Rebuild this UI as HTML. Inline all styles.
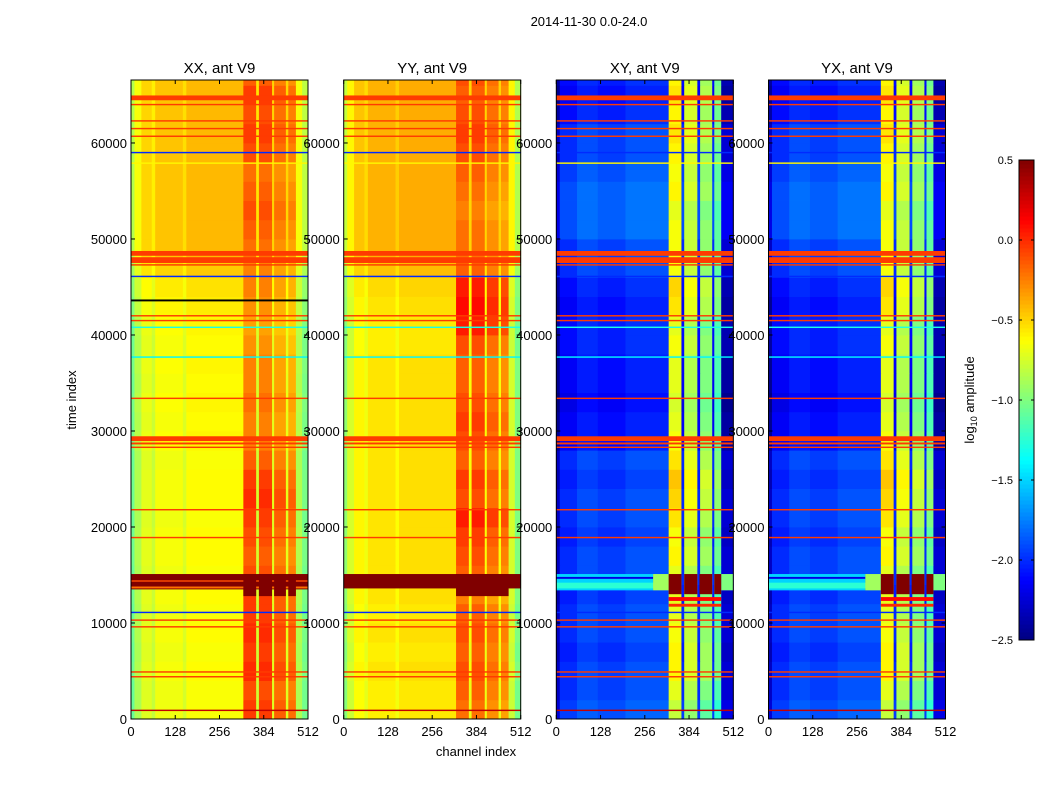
<!DOCTYPE html>
<html><head><meta charset="utf-8"><style>
body{margin:0;background:#fff;width:1050px;height:800px;overflow:hidden}
svg{font-family:"Liberation Sans",sans-serif}
</style></head><body>
<svg id="fig" width="1050" height="800" xmlns="http://www.w3.org/2000/svg">
<text x="589" y="26" font-size="13" text-anchor="middle">2014-11-30 0.0-24.0</text>
<text x="476" y="756" font-size="13" text-anchor="middle">channel index</text>
<text transform="translate(76,400) rotate(-90)" font-size="13" text-anchor="middle">time index</text>
<text transform="translate(974,400) rotate(-90)" font-size="13" text-anchor="middle">log<tspan font-size="9" dy="3">10</tspan><tspan dy="-3"> amplitude</tspan></text>
<g id="panels"></g>
<g id="cbar"></g>
</svg>
<script>
const TMAX = 66560;
const xTicks = [0,128,256,384,512];
const yTicks = [0,10000,20000,30000,40000,50000,60000];
const cbTicks = [-2.5,-2.0,-1.5,-1.0,-0.5,0.0,0.5];
const titles = ["XX, ant V9","YY, ant V9","XY, ant V9","YX, ant V9"];
// column segments: [c0, c1, base value, isRfi]
const colXX = [[0,10,-0.85,0],[10,30,-0.65,0],[30,60,-0.5,0],[60,70,-0.58,0],[70,150,-0.45,0],[150,160,-0.53,0],[160,325,-0.42,0],[325,362,-0.15,1],[362,370,-0.55,0],[370,408,-0.15,1],[408,414,-0.5,0],[414,448,-0.25,1],[448,455,-0.5,0],[455,477,-0.3,1],[477,495,-0.65,0],[495,512,-0.82,0]];
const colYY = [[0,10,-0.8,0],[10,30,-0.6,0],[30,60,-0.45,0],[60,70,-0.52,0],[70,150,-0.4,0],[150,160,-0.48,0],[160,325,-0.38,0],[325,362,-0.15,1],[362,370,-0.5,0],[370,408,-0.15,1],[408,414,-0.5,0],[414,448,-0.25,1],[448,455,-0.5,0],[455,477,-0.3,1],[477,495,-0.6,0],[495,512,-0.85,0]];
const colXY = [[0,10,-2.3,0],[10,60,-2.0,0],[60,120,-1.9,0],[120,200,-1.95,0],[200,325,-1.88,0],[325,362,-0.7,1],[362,370,-2.0,0],[370,408,-0.85,1],[408,416,-2.0,0],[416,451,-1.0,1],[451,457,-2.0,0],[457,477,-1.15,1],[477,512,-2.25,0]];
// row offsets per 2000 time units (body, rfi)
const bodyXX = [-0.22,-0.22,-0.2,-0.22,-0.2,-0.22,-0.2,-0.22,-0.2,-0.2,-0.22,-0.2,-0.2,-0.22,-0.18,-0.2,-0.18,-0.2,-0.18,-0.2,-0.18,-0.15,-0.12,-0.05,0,0,0,0,0,0,0,0,0,0];
const rfiXX = [0.1,0.05,0.15,0.1,0.15,0.1,0.1,0.05,0,0.05,0.1,0.15,0.1,0,-0.1,-0.1,-0.05,-0.1,-0.1,-0.15,-0.2,-0.15,-0.1,-0.1,-0.05,0,0.05,0,-0.05,0.05,0.1,0.05,0.1,0];
const bodyYY = [-0.18,-0.18,-0.15,-0.18,-0.15,-0.18,-0.15,-0.15,-0.15,-0.15,-0.15,-0.15,-0.15,-0.15,-0.15,-0.15,-0.15,-0.15,-0.15,-0.18,-0.18,-0.15,-0.12,-0.05,0,0,0,0,0,0,0,0,0,0];
const rfiYY = [-0.05,0,0.05,0,0.05,0,-0.1,0,0.05,0.1,0.2,0.05,0.1,0,0.05,0.1,0.05,0,0,0.05,0.2,0.25,0.2,0,-0.05,-0.05,-0.1,-0.05,0,0.05,0.1,0.05,0,0.05];
const bodyXY = [0.05,0,0,-0.05,0,0,-0.05,0,0,-0.05,0,0,-0.05,0,-0.15,-0.15,-0.2,-0.15,-0.15,-0.1,-0.1,-0.15,-0.1,0,0,0.1,0.1,0.1,0.05,0,0,-0.1,-0.15,-0.1];
const rfiXY = [-0.1,0,0.1,0.1,0.05,0,0,0,0.1,0.05,0.15,0.2,0.25,0.15,0.05,0,-0.05,0,0,0.05,0,0.15,0.2,0.05,0.05,0.05,0,0.1,0.05,0.1,0.15,0.1,0.15,0.1];
// horizontal flagged lines: [time, value, thickness]
const lines = [[64700,-0.05,500],[64000,-0.05,150],[62300,-0.05,150],[61500,-0.05,150],[60700,-0.05,150],[59000,-2.0,150],[57900,-0.6,150],[48500,-0.05,500],[47800,-0.05,600],[47300,-0.05,150],[46100,-2.0,150],[42000,-0.05,150],[41500,-0.05,150],[40800,-1.3,150],[37700,-1.4,150],[33400,-0.05,150],[29200,-0.05,500],[28700,-0.05,200],[28300,-0.05,150],[21800,-0.05,150],[18900,-0.05,150],[11100,-2.0,150],[10300,-0.05,150],[9600,-0.05,150],[4900,-0.05,150],[4400,-0.05,150],[900,0.3,150]];
// flare blocks: [t0, t1, c0, c1, value]
const blocksXX = [[43500,43700,0,512,-3],[13500,15100,0,512,0.5],[13600,13800,0,512,-0.2],[14300,14450,0,512,-0.1],[12800,15100,325,362,0.5],[12800,15100,370,408,0.5],[12800,15100,414,448,0.5],[12800,15100,455,477,0.5]];
const blocksYY = [[13600,15100,0,512,0.5],[12800,15100,325,477,0.5]];
const blocksXY = [[13400,15100,0,280,-1.5],[13600,14200,0,300,-1.25],[14600,14800,0,300,-2.2],[13400,15100,280,325,-0.9],[13400,15100,477,512,-1.0],[13000,15100,325,362,0.5],[13000,15100,370,408,0.5],[13000,15100,414,451,0.5],[13000,15100,457,477,0.5],[12300,12700,325,477,0.1],[11700,12000,325,477,0.0]];
const panels = [
 {col:colXX,body:bodyXX,rfi:rfiXX,blocks:blocksXX},
 {col:colYY,body:bodyYY,rfi:rfiYY,blocks:blocksYY},
 {col:colXY,body:bodyXY,rfi:rfiXY,blocks:blocksXY},
 {col:colXY,body:bodyXY,rfi:rfiXY,blocks:blocksXY}];

const NS="http://www.w3.org/2000/svg";
function jet(v){if(v<-2.6)return '#000';let x=(v+2.5)/3;x=Math.max(0,Math.min(1,x));
 const c=t=>Math.round(255*Math.max(0,Math.min(1,1.5-Math.abs(4*x-t))));
 return `rgb(${c(3)},${c(2)},${c(1)})`;}
function mk(tag,attrs,parent){const e=document.createElementNS(NS,tag);for(const k in attrs)e.setAttribute(k,attrs[k]);parent.appendChild(e);return e;}
const X0=[131,343.7,556.3,768.5], W=177, Y0=80, Y1=719;
const gp=document.getElementById('panels');
panels.forEach((p,i)=>{
 const x0=X0[i];
 const xs=c=>x0+c/512*W, ys=t=>Y1-t/TMAX*(Y1-Y0);
 const g=mk('g',{},gp);
 
 
 p.body.forEach((bo,r)=>{
  const t0=r*2000,t1=Math.min(TMAX,(r+1)*2000);
  p.col.forEach(cs=>{
   const v=cs[2]+(cs[3]?p.rfi[r]:bo);
   const e=mk('rect',{x:xs(cs[0]),y:ys(t1),width:xs(cs[1])-xs(cs[0])+0.4,height:ys(t0)-ys(t1)+0.4,fill:jet(v)},g);
   
   
  });
 });
 lines.forEach(l=>{
  const h=Math.max(1.2,l[2]/TMAX*(Y1-Y0));
  const e=mk('rect',{x:x0,y:ys(l[0])-h/2,width:W,height:h,fill:jet(l[1])},g);
  
  
 });
 p.blocks.forEach(b=>{
  const e=mk('rect',{x:xs(b[2]),y:ys(b[1]),width:xs(b[3])-xs(b[2]),height:Math.max(1.2,ys(b[0])-ys(b[1])),fill:jet(b[4])},g);
  
  
 });
 const fr=mk('rect',{x:x0,y:Y0,width:W,height:Y1-Y0,fill:'none',stroke:'#000','stroke-width':1},g);
 
 
 const tt=mk('text',{x:x0+W/2,y:73,'font-size':15,'text-anchor':'middle'},g);tt.textContent=titles[i];
 
 
 xTicks.forEach(c=>{const x=xs(c);
  mk('line',{x1:x,x2:x,y1:Y1,y2:Y1-4,stroke:'#000'},g);mk('line',{x1:x,x2:x,y1:Y0,y2:Y0+4,stroke:'#000'},g);
  const t=mk('text',{x:x,y:736,'font-size':13,'text-anchor':'middle'},g);t.textContent=c;
  
  });
 yTicks.forEach(v=>{const y=ys(v);
  mk('line',{x1:x0,x2:x0+4,y1:y,y2:y,stroke:'#000'},g);mk('line',{x1:x0+W,x2:x0+W-4,y1:y,y2:y,stroke:'#000'},g);
  const t=mk('text',{x:x0-4,y:y+5,'font-size':13,'text-anchor':'end'},g);t.textContent=v;
  
  });
});
// colorbar
const cb=document.getElementById('cbar');
const CX=1019,CW=15,CY0=160,CY1=640;
const cy=v=>CY1-(v+2.5)/3*(CY1-CY0);
for(let k=0;k<120;k++){const v0=-2.5+k*3/120,v1=v0+3/120;
 const e=mk('rect',{x:CX,y:cy(v1),width:CW,height:cy(v0)-cy(v1)+0.5,fill:jet((v0+v1)/2)},cb);
 
 }
const cf=mk('rect',{x:CX,y:CY0,width:CW,height:CY1-CY0,fill:'none',stroke:'#000'},cb);


cbTicks.forEach(v=>{const y=cy(v);
 mk('line',{x1:CX,x2:CX+3,y1:y,y2:y,stroke:'#000'},cb);mk('line',{x1:CX+CW,x2:CX+CW-3,y1:y,y2:y,stroke:'#000'},cb);
 const t=mk('text',{x:1013,y:y+4,'font-size':11,'text-anchor':'end'},cb);t.textContent=(v<0?'\u2212':'')+Math.abs(v).toFixed(1);
 
 });
</script>
</body></html>
